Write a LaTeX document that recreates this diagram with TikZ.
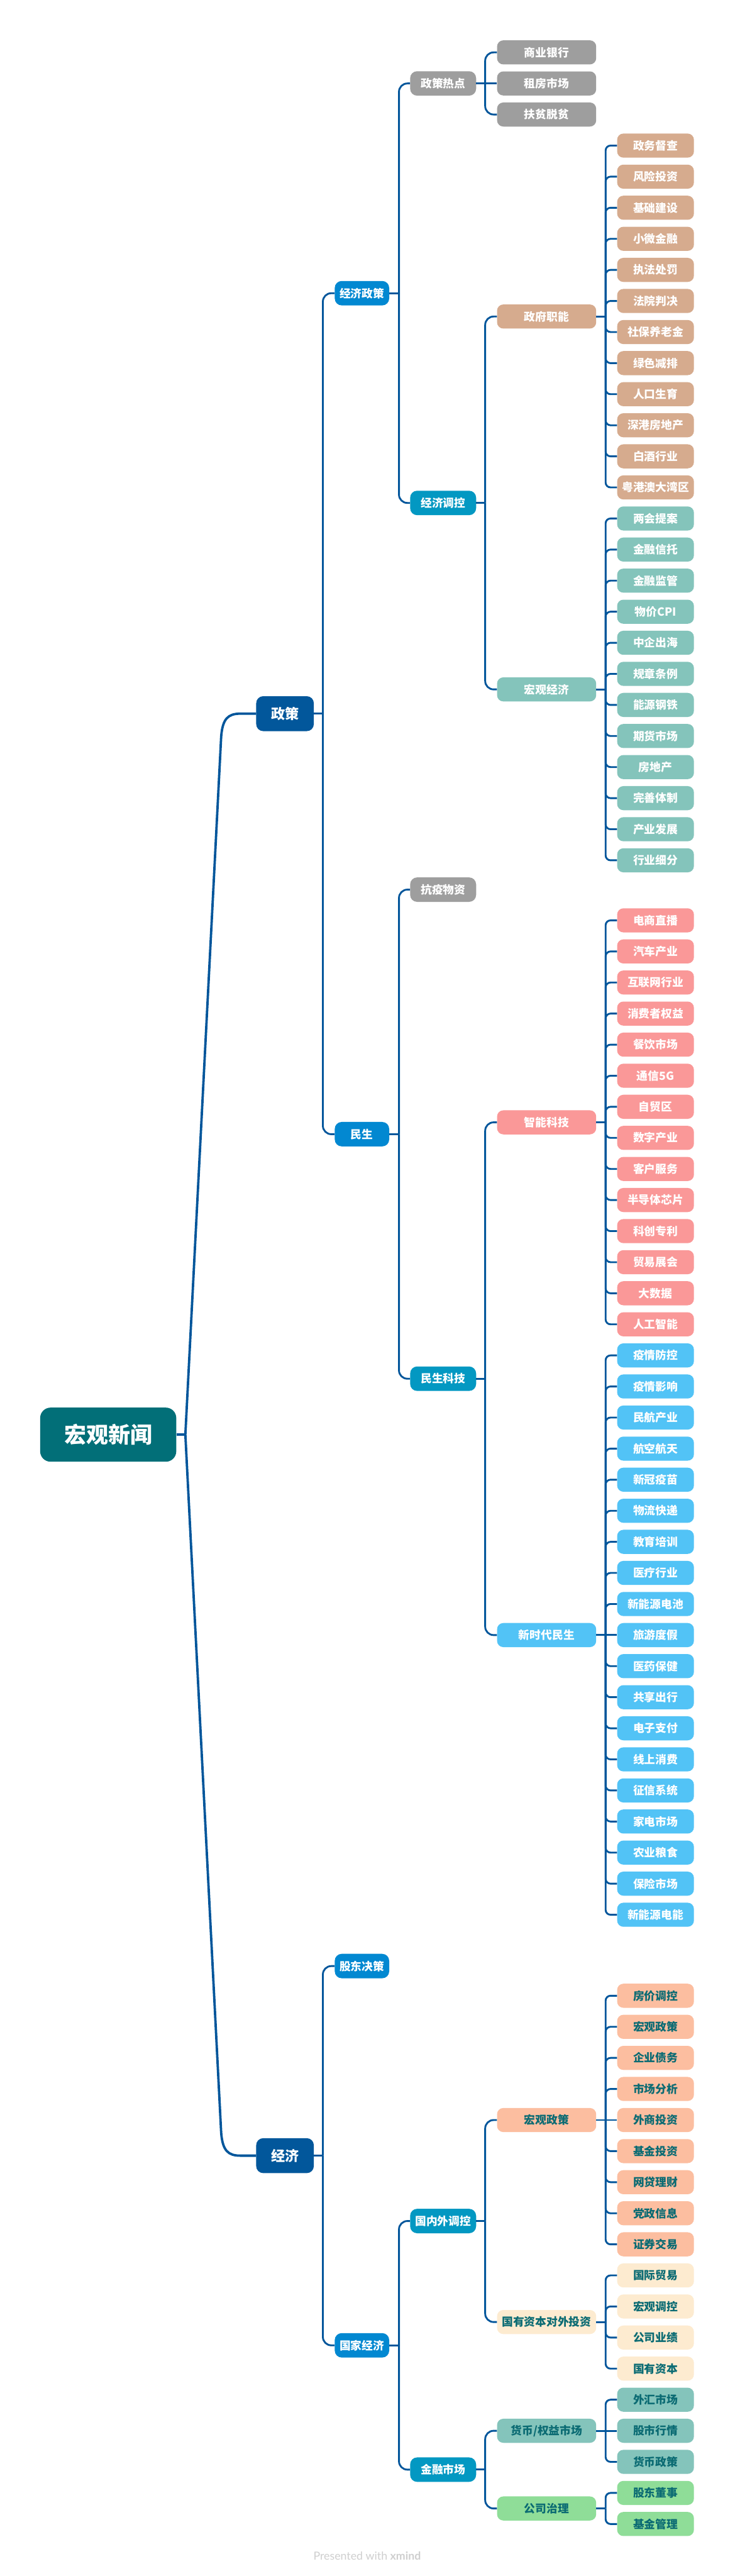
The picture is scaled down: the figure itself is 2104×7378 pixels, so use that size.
\documentclass[tikz,border=0pt]{standalone}
\usepackage{fontspec}
\setmainfont{Noto Sans CJK SC}
\newfontfamily\footfont{Lato}
\usetikzlibrary{calc}
\definecolor{rootc}{HTML}{026F78}
\definecolor{lineC}{HTML}{02569B}
\definecolor{lvA}{HTML}{02579B}
\definecolor{lvB}{HTML}{0288D1}
\definecolor{lvC}{HTML}{0398C2}
\definecolor{grayN}{HTML}{9E9E9E}
\definecolor{tanN}{HTML}{D6AB8E}
\definecolor{tealN}{HTML}{84C4BB}
\definecolor{pinkN}{HTML}{FA9898}
\definecolor{skyN}{HTML}{52C3F6}
\definecolor{peachN}{HTML}{FCBEA0}
\definecolor{creamN}{HTML}{FDEBD0}
\definecolor{greenN}{HTML}{8FDD98}
\definecolor{darkT}{HTML}{0B6B73}
\definecolor{footC}{HTML}{CFCFCF}
\tikzset{
  conn/.style={draw=lineC, line width=2.6pt},
  rconn/.style={draw=lineC, line width=3.4pt},
  nbase/.style={rectangle, inner sep=0pt, align=center, text=white, font=\bfseries\fontsize{16pt}{16pt}\selectfont},
  rootbox/.style={nbase, fill=rootc, minimum width=195pt, minimum height=77.5pt, rounded corners=15pt, font=\bfseries\fontsize{31.5pt}{32pt}\selectfont},
  lone/.style={nbase, fill=lvA, minimum width=82.5pt, minimum height=50pt, rounded corners=10pt, font=\bfseries\fontsize{20pt}{20pt}\selectfont},
  ltwo/.style={nbase, fill=lvB, minimum width=78pt, minimum height=35pt, rounded corners=10pt},
  lthree/.style={nbase, fill=lvC, minimum width=94.5pt, minimum height=35pt, rounded corners=10pt},
  lfour/.style={nbase, minimum width=142pt, minimum height=34.5pt, rounded corners=9pt},
  lfive/.style={nbase, minimum width=110pt, minimum height=34.5pt, rounded corners=9pt},
  dk/.style={text=darkT},
}
% #1 prefix, #2 parent, #3 spine coord, #4 centre x, #5 first y, #6 style, #7 list, #8 middle index, #9 radius
\newcommand\grp[9]{%
  \coordinate (#2-j) at (#2.east -| #3);
  \draw[conn] (#2.east) -- (#2-j);
  \foreach \t [count=\i from 0] in {#7} {
    \node[#6] (#1\i) at (#4, {#5+89*\i}) {\t};
    \ifnum\i=#8\relax
      \draw[conn] (#2-j) -- (#1\i.west);
    \else
      \draw[conn, rounded corners=#9] (#2-j) |- (#1\i.west);
    \fi
  }
}
\newcommand\twokids[4]{% #1 parent, #2 spine, #3 child a, #4 child b
  \coordinate (#1-j) at (#1.east -| #2);
  \draw[conn] (#1.east) -- (#1-j);
  \draw[conn, rounded corners=12pt] (#1-j) |- (#3.west);
  \draw[conn, rounded corners=12pt] (#1-j) |- (#4.west);
}
\begin{document}
\begin{tikzpicture}[x=0.5pt, y=-0.5pt]
\useasboundingbox[fill=white] (0,0) rectangle (2104,7378);
\coordinate (sp1) at (925,0);
\coordinate (sp2) at (1143,0);
\coordinate (sp3) at (1390,0);
\coordinate (sp4) at (1735,0);

% root and level 1
\node[rootbox] (root) at (310,4109) {宏观新闻};
\node[lone] (zc) at (816.5,2044) {政策};
\node[lone] (jj) at (816.5,6174) {经济};

% level 2
\node[ltwo] (jjzc) at (1037,839.75) {经济政策};
\node[ltwo] (ms) at (1037,3248.4) {民生};
\node[ltwo] (gdjc) at (1037,5631) {股东决策};
\node[ltwo] (gjjj) at (1037,6717.25) {国家经济};

% level 3
\node[lthree, fill=grayN] (zcrd) at (1269.5,239) {政策热点};
\node[lthree] (jjtk) at (1269.5,1440.5) {经济调控};
\node[lthree, fill=grayN] (kywz) at (1269.5,2548) {抗疫物资};
\node[lthree] (mskj) at (1269.5,3948.75) {民生科技};
\node[lthree] (gnwtk) at (1269.5,6361.25) {国内外调控};
\node[lthree] (jrsc) at (1269.5,7073.25) {金融市场};

% level 4
\node[lfour, fill=tanN] (zfzn) at (1566,906.5) {政府职能};
\node[lfour, fill=tealN] (hgjj) at (1566,1974.5) {宏观经济};
\node[lfour, fill=pinkN] (znkj) at (1566,3214.5) {智能科技};
\node[lfour, fill=skyN] (xsd) at (1566,4683) {新时代民生};
\node[lfour, fill=peachN, dk] (hgzc) at (1566,6072) {宏观政策};
\node[lfour, fill=creamN, dk] (gyzb) at (1566,6650.5) {国有资本对外投资};
\node[lfour, fill=tealN, dk] (hbqy) at (1566,6962) {货币/权益市场};
\node[lfour, fill=greenN, dk] (gszl) at (1566,7184.5) {公司治理};

% root connectors
\coordinate (rj) at (531,4109);
\draw[rconn] (root.east) -- (rj);
\draw[rconn] (rj) -- ($(zc.west)+(-100,66)$) .. controls ($(zc.west)+(-96,14)$) and ($(zc.west)+(-80,0)$) .. ($(zc.west)+(-45,0)$) -- (zc.west);
\draw[rconn] (rj) -- ($(jj.west)+(-100,-66)$) .. controls ($(jj.west)+(-96,-14)$) and ($(jj.west)+(-80,0)$) .. ($(jj.west)+(-45,0)$) -- (jj.west);

% level 1 -> 2
\twokids{zc}{sp1}{jjzc}{ms}
\twokids{jj}{sp1}{gdjc}{gjjj}
% level 2 -> 3
\twokids{jjzc}{sp2}{zcrd}{jjtk}
\twokids{ms}{sp2}{kywz}{mskj}
\twokids{gjjj}{sp2}{gnwtk}{jrsc}
% level 3 -> 4
\grp{g}{zcrd}{sp3}{1566}{150}{lfour,fill=grayN}{商业银行,租房市场,扶贫脱贫}{1}{12pt}
\twokids{jjtk}{sp3}{zfzn}{hgjj}
\twokids{mskj}{sp3}{znkj}{xsd}
\twokids{gnwtk}{sp3}{hgzc}{gyzb}
\twokids{jrsc}{sp3}{hbqy}{gszl}

% level 4 -> 5
\grp{zf}{zfzn}{sp4}{1878}{417}{lfive,fill=tanN}{政务督查,风险投资,基础建设,小微金融,执法处罚,法院判决,社保养老金,绿色减排,人口生育,深港房地产,白酒行业,粤港澳大湾区}{-1}{7pt}
\grp{hj}{hgjj}{sp4}{1878}{1485}{lfive,fill=tealN}{两会提案,金融信托,金融监管,物价CPI,中企出海,规章条例,能源钢铁,期货市场,房地产,完善体制,产业发展,行业细分}{-1}{7pt}
\grp{zn}{znkj}{sp4}{1878}{2636}{lfive,fill=pinkN}{电商直播,汽车产业,互联网行业,消费者权益,餐饮市场,通信5G,自贸区,数字产业,客户服务,半导体芯片,科创专利,贸易展会,大数据,人工智能}{-1}{7pt}
\grp{xs}{xsd}{sp4}{1878}{3882}{lfive,fill=skyN}{疫情防控,疫情影响,民航产业,航空航天,新冠疫苗,物流快递,教育培训,医疗行业,新能源电池,旅游度假,医药保健,共享出行,电子支付,线上消费,征信系统,家电市场,农业粮食,保险市场,新能源电能}{9}{7pt}
\grp{hz}{hgzc}{sp4}{1878}{5716}{lfive,fill=peachN,dk}{房价调控,宏观政策,企业债务,市场分析,外商投资,基金投资,网贷理财,党政信息,证券交易}{4}{7pt}
\grp{gy}{gyzb}{sp4}{1878}{6517}{lfive,fill=creamN,dk}{国际贸易,宏观调控,公司业绩,国有资本}{-1}{7pt}
\grp{hb}{hbqy}{sp4}{1878}{6873}{lfive,fill=tealN,dk}{外汇市场,股市行情,货币政策}{1}{7pt}
\grp{gs}{gszl}{sp4}{1878}{7140}{lfive,fill=greenN,dk}{股东董事,基金管理}{-1}{7pt}

% footer
\node[anchor=base, inner sep=0pt, text=footC, font=\footfont\fontsize{16pt}{16pt}\selectfont] (foot) at (1052,7332) {Presented with \textbf{xmind}};
\end{tikzpicture}
\end{document}
